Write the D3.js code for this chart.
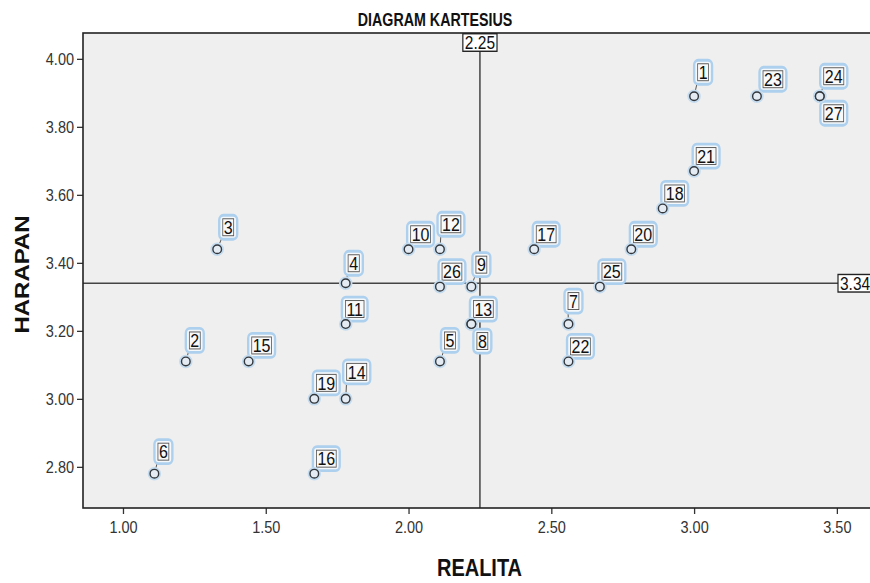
<!DOCTYPE html>
<html><head><meta charset="utf-8">
<script src="https://cdn.jsdelivr.net/npm/d3@7"></script>
<style>
body{margin:0;background:#fff;}
svg{display:block;font-family:'Liberation Sans',Arial,sans-serif;}
</style>
</head><body>
<svg id="c" width="870" height="583"></svg>
<script>
// ---- data ----
const ids     = [1,2,3,4,5,6,7,8,9,10,11,12,13,14,15,16,17,18,19,20,21,22,23,24,25,26,27];
const realita = [3.00,1.22,1.33,1.78,2.11,1.11,2.56,2.22,2.22,2.00,1.78,2.11,2.22,1.78,1.44,1.67,2.44,2.89,1.67,2.78,3.00,2.56,3.22,3.44,2.67,2.11,3.44];
const harapan = [3.89,3.11,3.44,3.34,3.11,2.78,3.22,3.22,3.33,3.44,3.22,3.44,3.22,3.00,3.11,2.78,3.44,3.56,3.00,3.44,3.67,3.11,3.89,3.89,3.33,3.33,3.89];
const meanRealita = 2.25;
const meanHarapan = 3.34;
const xTicks = [1.00,1.50,2.00,2.50,3.00,3.50];
const yTicks = [2.80,3.00,3.20,3.40,3.60,3.80,4.00];
const title = "DIAGRAM KARTESIUS";
const xTitle = "REALITA";
const yTitle = "HARAPAN";

// ---- layout (label placement, not data) ----
const labelDefault = [12,-15];
const labelOverride = {1:[9,-24],23:[16,-17],24:[14,-20],27:[14,17],7:[5,-23],12:[11,-25],9:[10,-22],
  8:[11,17],5:[10,-21],4:[8,-20],11:[9,-15],3:[11,-22],2:[9,-21],6:[9,-22],14:[11,-27],15:[13,-16],19:[12,-16]};

const SY = 1.17; // vertical stretch of text as in reference
const L = 83, T = 33, R = 876, B = 508;
const svg = d3.select("#c");
const x = d3.scaleLinear().domain([0.86, 3.637]).range([L, R]);
const y = d3.scaleLinear().domain([2.679, 4.076]).range([B, T]);

// background
svg.append("rect").attr("x",L).attr("y",T).attr("width",R-L).attr("height",B-T).attr("fill","#efefef");

// title
svg.append("text").attr("transform",`translate(435,26) scale(0.92,${SY*1.05})`).attr("text-anchor","middle")
  .attr("font-weight","bold").attr("font-size",15.5).attr("fill","#111").text(title);

// axes
const ax = svg.append("g").attr("transform",`translate(0,${B})`)
  .call(d3.axisBottom(x).tickValues(xTicks).tickFormat(d3.format(".2f")).tickSize(6).tickPadding(5));
const ay = svg.append("g").attr("transform",`translate(${L},0)`)
  .call(d3.axisLeft(y).tickValues(yTicks).tickFormat(d3.format(".2f")).tickSize(6).tickPadding(3));
[ax,ay].forEach(a=>{
  a.select(".domain").remove();
  a.selectAll(".tick line").attr("stroke","#333").attr("stroke-width",1.3);
  a.selectAll(".tick text").attr("font-size",14.5).attr("fill","#333")
   .attr("font-family","'Liberation Sans',Arial,sans-serif")
   .attr("transform",`scale(1,${SY})`);
});

// axis titles
svg.append("text").attr("transform",`translate(${(L+R)/2},576) scale(1,${SY})`).attr("text-anchor","middle")
  .attr("font-weight","bold").attr("font-size",20).attr("fill","#111").text(xTitle);
svg.append("text").attr("transform",`translate(29,${(T+B)/2 + 4}) scale(1,${SY}) rotate(-90)`).attr("text-anchor","middle")
  .attr("font-weight","bold").attr("font-size",20.5).attr("fill","#111").text(yTitle);

// reference lines
svg.append("line").attr("x1",x(meanRealita)).attr("x2",x(meanRealita)).attr("y1",T).attr("y2",B)
  .attr("stroke","#444").attr("stroke-width",1.5);
svg.append("line").attr("x1",L).attr("x2",R).attr("y1",y(meanHarapan)).attr("y2",y(meanHarapan))
  .attr("stroke","#444").attr("stroke-width",1.5);

// points data
const pts = ids.map((id,i)=>({id, rx:realita[i], hy:harapan[i]}));

// leader lines + labels
const lg = svg.append("g");
pts.forEach(p=>{
  const px = x(p.rx), py = y(p.hy);
  const off = labelOverride[p.id] || labelDefault;
  const cx = px+off[0], cy = py+off[1];
  const g = lg.append("g").attr("transform",`translate(${cx},${cy}) scale(1,${SY})`);
  const outer = g.append("rect");
  const inner = g.append("rect");
  const t = g.append("text").attr("text-anchor","middle").attr("dy","0.36em")
    .attr("font-size",16).attr("fill","#111").text(p.id);
  const bb = t.node().getBBox();
  const w = bb.width+2, h = 14.5;
  inner.attr("x",-w/2).attr("y",-h/2).attr("width",w).attr("height",h)
    .attr("fill","#f9f9f9").attr("stroke","#555").attr("stroke-width",0.8);
  outer.attr("x",-w/2-3.5).attr("y",-h/2-3).attr("width",w+7).attr("height",h+6).attr("rx",4)
    .attr("fill","#f5f8fb").attr("stroke","#add0ee").attr("stroke-width",2.4);
  // leader
  const hh = h*SY/2;
  const ex = cx - w/2, ey = off[1] < 0 ? cy + hh : cy - hh;
  const dx = ex-px, dy = ey-py, d = Math.hypot(dx,dy);
  if (d > 5) {
    lg.insert("line",":first-child").attr("x1",px+dx/d*4.5).attr("y1",py+dy/d*4.5).attr("x2",ex).attr("y2",ey)
      .attr("stroke","#444").attr("stroke-width",0.9);
  }
});

// points
const pg = svg.append("g");
pg.selectAll("circle.h").data(pts).join("circle").attr("class","h")
  .attr("cx",d=>x(d.rx)).attr("cy",d=>y(d.hy)).attr("r",5.5)
  .attr("fill","none").attr("stroke","#c3dbef").attr("stroke-width",2.5);
pg.selectAll("circle.p").data(pts).join("circle").attr("class","p")
  .attr("cx",d=>x(d.rx)).attr("cy",d=>y(d.hy)).attr("r",4.3)
  .attr("fill","#e4ebf2").attr("stroke","#33373c").attr("stroke-width",1.4);

// frame
svg.append("rect").attr("x",L).attr("y",T).attr("width",R-L).attr("height",B-T)
  .attr("fill","none").attr("stroke","#222").attr("stroke-width",1.6);

// reference line value boxes
function refBox(cx, cy, txt, anchorLeft){
  const g = svg.append("g").attr("transform",`translate(${cx},${cy}) scale(1,${SY})`);
  const r = g.append("rect");
  const t = g.append("text").attr("text-anchor", anchorLeft ? "start":"middle").attr("x", anchorLeft?2:0)
    .attr("dy","0.36em").attr("font-size",15.5).attr("fill","#111").text(txt);
  const bb = t.node().getBBox();
  r.attr("x",bb.x-2).attr("y",-7.5).attr("width",bb.width+4).attr("height",15)
   .attr("fill","#fff").attr("stroke","#222").attr("stroke-width",1.2);
}
refBox(x(meanRealita), T+9.5, d3.format(".2f")(meanRealita), false);
refBox(838, y(meanHarapan), d3.format(".2f")(meanHarapan), true);
</script>
</body></html>
